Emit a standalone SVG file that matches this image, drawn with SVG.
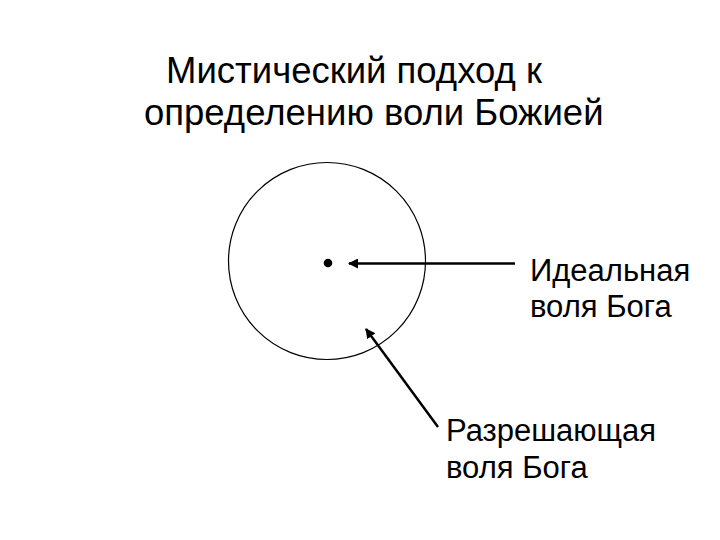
<svg xmlns="http://www.w3.org/2000/svg" width="720" height="540" viewBox="0 0 720 540">
<style>
text{font-family:"Liberation Sans",Arial,sans-serif;fill:#000}
.t{font-size:36.5px}
.l{font-size:31px}
.c{stroke:#000;stroke-width:2.5;fill:none}
</style>
<defs>
<marker id="ah" viewBox="0 0 10 10" refX="9" refY="5" markerWidth="4" markerHeight="4" orient="auto" markerUnits="strokeWidth">
<path d="M0,0L10,5L0,10z" fill="#000"/>
</marker>
</defs>
<rect width="720" height="540" fill="#fff"/>
<g id="title">
<text class="t" x="166" y="83">Мистический подход к</text>
<text class="t" x="144" y="125">определению воли Божией</text>
</g>
<g id="circle">
<circle cx="327" cy="261" r="98.5" fill="none" stroke="#000" stroke-width="1.2"/>
<circle cx="328" cy="263" r="4.3" fill="#000"/>
</g>
<g id="ideal">
<text class="l" x="530" y="281">Идеальная</text>
<text class="l" x="530" y="317">воля Бога</text>
</g>
<g id="permissive">
<text class="l" x="446" y="441">Разрешающая</text>
<text class="l" x="446" y="478">воля Бога</text>
</g>
<g id="connectors">
<line class="c" x1="515" y1="263.5" x2="349" y2="263.5" marker-end="url(#ah)"/>
<line class="c" x1="438" y1="427" x2="366" y2="329" marker-end="url(#ah)"/>
</g>
</svg>
